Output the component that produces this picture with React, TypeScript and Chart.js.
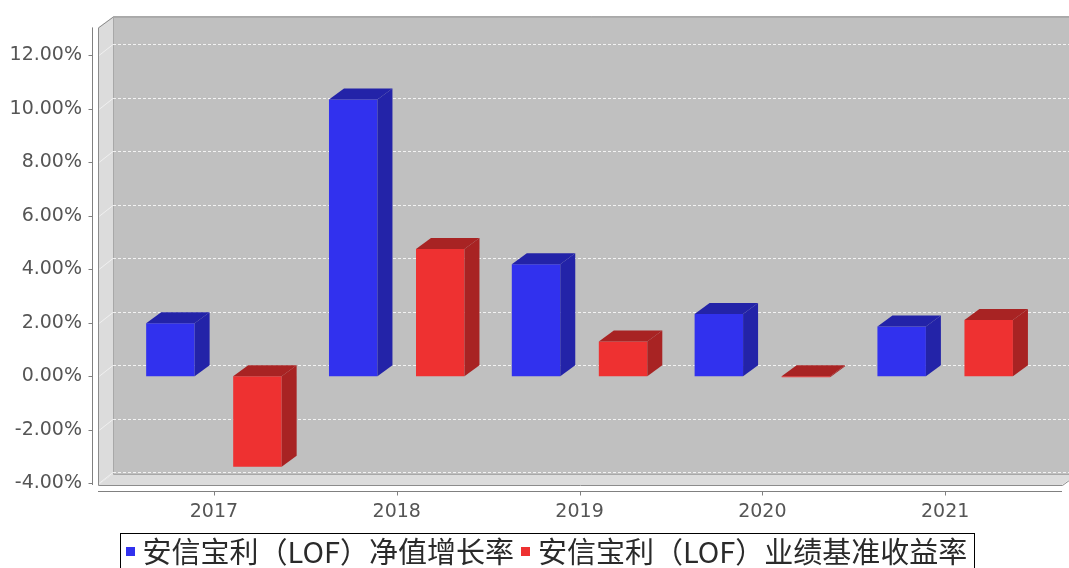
import { useEffect, useRef } from 'react';
import { Chart, registerables } from 'chart.js';

Chart.register(...registerables);

const categories = ['2017', '2018', '2019', '2020', '2021'];
const navGrowth = [1.98, 10.35, 4.19, 2.33, 1.86];
const benchmark = [-3.38, 4.76, 1.3, -0.03, 2.11];
const seriesNames = ['安信宝利（LOF）净值增长率', '安信宝利（LOF）业绩基准收益率'];
const yTicks = [-4, -2, 0, 2, 4, 6, 8, 10, 12];

const DX = 15;
const DY = 11;
const FRONT = ['#3131ee', '#ee3131'];
const SIDE = ['#2323a8', '#a82323'];
const W = 1069;
const H = 568;

function poly(ctx: CanvasRenderingContext2D, pts: number[][]) {
  ctx.beginPath();
  ctx.moveTo(pts[0][0], pts[0][1]);
  for (let i = 1; i < pts.length; i++) ctx.lineTo(pts[i][0], pts[i][1]);
  ctx.closePath();
}

const threeD = {
  id: 'threeD',
  beforeDraw(chart: any) {
    const { ctx, chartArea: a, width, height } = chart;
    ctx.save();
    ctx.fillStyle = '#ffffff';
    ctx.fillRect(0, 0, width, height);
    ctx.fillStyle = '#c0c0c0';
    ctx.fillRect(a.left + DX, a.top - DY, a.right - a.left, a.bottom - a.top);
    ctx.fillStyle = '#dcdcdc';
    poly(ctx, [[a.left, a.top], [a.left + DX, a.top - DY], [a.left + DX, a.bottom - DY], [a.left, a.bottom]]);
    ctx.fill();
    poly(ctx, [[a.left, a.bottom], [a.left + DX, a.bottom - DY], [a.right + DX, a.bottom - DY], [a.right, a.bottom]]);
    ctx.fill();
    ctx.strokeStyle = '#8c8c8c';
    ctx.lineWidth = 1;
    const L = a.left + 0.5, T = a.top + 0.5, R = a.right + 0.5, B = a.bottom + 0.5;
    poly(ctx, [[L, B], [L, T], [L + DX, T - DY], [R + DX, T - DY], [R + DX, B - DY], [R, B]]);
    ctx.stroke();
    ctx.strokeStyle = '#a8a8a8';
    ctx.beginPath();
    ctx.moveTo(L + DX, T - DY);
    ctx.lineTo(L + DX, B - DY);
    ctx.lineTo(R + DX, B - DY);
    ctx.stroke();
    ctx.restore();
  },
  beforeDatasetsDraw(chart: any) {
    const { ctx, chartArea: a, scales } = chart;
    const y = scales.y;
    const x = scales.x;
    ctx.save();
    for (const v of yTicks) {
      const py = Math.round(y.getPixelForValue(v)) + 0.5;
      ctx.setLineDash([]);
      ctx.strokeStyle = 'rgba(255,255,255,0.55)';
      ctx.beginPath();
      ctx.moveTo(a.left + 1, py);
      ctx.lineTo(a.left + DX, py - DY);
      ctx.stroke();
      ctx.setLineDash([3, 2]);
      ctx.strokeStyle = 'rgba(255,255,255,0.8)';
      ctx.beginPath();
      ctx.moveTo(a.left + DX, py - DY);
      ctx.lineTo(a.right + DX, py - DY);
      ctx.stroke();
    }
    ctx.setLineDash([]);
    ctx.strokeStyle = '#808080';
    ctx.beginPath();
    const ax = a.left - 5.5;
    ctx.moveTo(ax, a.top);
    ctx.lineTo(ax, a.bottom);
    for (const v of yTicks) {
      const py = Math.round(y.getPixelForValue(v)) + 0.5;
      ctx.moveTo(ax - 4, py);
      ctx.lineTo(ax, py);
    }
    const ay = a.bottom + 6.5;
    ctx.moveTo(a.left, ay);
    ctx.lineTo(a.right, ay);
    categories.forEach((_, i) => {
      const px = Math.round(x.getPixelForValue(i)) + 0.5;
      ctx.moveTo(px, ay);
      ctx.lineTo(px, ay + 4);
    });
    ctx.stroke();
    ctx.restore();
  },
  afterDatasetsDraw(chart: any) {
    const { ctx } = chart;
    ctx.save();
    chart.data.datasets.forEach((_: any, di: number) => {
      const meta = chart.getDatasetMeta(di);
      meta.data.forEach((el: any) => {
        const { x, y, base, width } = el.getProps(['x', 'y', 'base', 'width'], true);
        const l = x - width / 2;
        const r = x + width / 2;
        const top = Math.min(y, base);
        const bot = Math.max(y, base);
        ctx.fillStyle = SIDE[di];
        poly(ctx, [[r, top], [r + DX, top - DY], [r + DX, bot - DY], [r, bot]]);
        ctx.fill();
        poly(ctx, [[l, top], [l + DX, top - DY], [r + DX, top - DY], [r, top]]);
        ctx.fill();
      });
    });
    ctx.restore();
  },
  afterDraw(chart: any) {
    const { ctx } = chart;
    ctx.save();
    ctx.font = '29px "Noto Sans CJK SC"';
    const labels = chart.data.datasets.map((d: any) => d.label as string);
    const sq = 9;
    const gapText = 8;
    const gapItem = 7;
    const padL = 5;
    const padR = 7;
    const widths = labels.map((t: string) => ctx.measureText(t).width);
    let total = padL + padR;
    widths.forEach((w: number, i: number) => {
      total += sq + gapText + w + (i < widths.length - 1 ? gapItem : 0);
    });
    const cx = 546.5;
    const boxL = Math.round(cx - total / 2) + 0.5;
    const boxT = 533.5;
    const cy = 552;
    ctx.strokeStyle = '#000';
    ctx.lineWidth = 1;
    ctx.strokeRect(boxL, boxT, Math.round(total), 50);
    let xx = boxL + padL;
    labels.forEach((t: string, i: number) => {
      ctx.fillStyle = FRONT[i];
      ctx.fillRect(Math.round(xx), cy - 5, sq, sq);
      xx += sq + gapText;
      ctx.fillStyle = '#2a2a2a';
      ctx.textBaseline = 'middle';
      ctx.textAlign = 'left';
      ctx.fillText(t, xx, cy);
      xx += widths[i] + gapItem;
    });
    ctx.restore();
  },
};

export default function App() {
  const ref = useRef<HTMLCanvasElement>(null);
  useEffect(() => {
    if (!ref.current) return;
    const chart = new Chart(ref.current, {
      type: 'bar',
      data: {
        datasets: [
          {
            label: seriesNames[0],
            data: navGrowth.map((v, i) => ({ x: i, y: v })),
            backgroundColor: FRONT[0],
            borderWidth: 0,
          },
          {
            label: seriesNames[1],
            data: benchmark.map((v, i) => ({ x: i, y: v })),
            backgroundColor: FRONT[1],
            borderWidth: 0,
          },
        ],
      },
      options: {
        responsive: false,
        animation: false,
        events: [],
        categoryPercentage: 0.952,
        barPercentage: 0.557,
        layout: { padding: { left: 0, top: 25, right: 7, bottom: H - 485 - 40 } },
        plugins: { legend: { display: false }, tooltip: { enabled: false }, title: { display: false } },
        scales: {
          x: {
            type: 'linear',
            offset: false,
            min: -0.634,
            max: 4.639,
            grid: { display: false, drawTicks: false },
            border: { display: false },
            afterBuildTicks: (s: any) => {
              s.ticks = categories.map((_, i) => ({ value: i }));
            },
            afterFit: (s: any) => {
              s.height = 40;
            },
            ticks: {
              autoSkip: false,
              maxRotation: 0,
              padding: 16,
              color: '#555',
              font: { family: '"DejaVu Sans"', size: 19 },
              callback: (v: any) => categories[v as number],
            },
          },
          y: {
            type: 'linear',
            min: -4.06,
            max: 13.04,
            grid: { display: false, drawTicks: false },
            border: { display: false },
            afterBuildTicks: (s: any) => {
              s.ticks = yTicks.map((v) => ({ value: v }));
            },
            afterFit: (s: any) => {
              s.width = 98;
            },
            ticks: {
              padding: 16,
              color: '#555',
              font: { family: '"DejaVu Sans"', size: 19 },
              callback: (v: any) => Number(v).toFixed(2) + '%',
            },
          },
        },
      } as any,
      plugins: [threeD],
    });
    return () => chart.destroy();
  }, []);
  return (
    <div style={{ position: 'fixed', left: 0, top: 0, width: W, height: H, overflow: 'hidden', background: '#fff' }}>
      <canvas ref={ref} width={W} height={H} style={{ display: 'block', width: W, height: H }} />
    </div>
  );
}
